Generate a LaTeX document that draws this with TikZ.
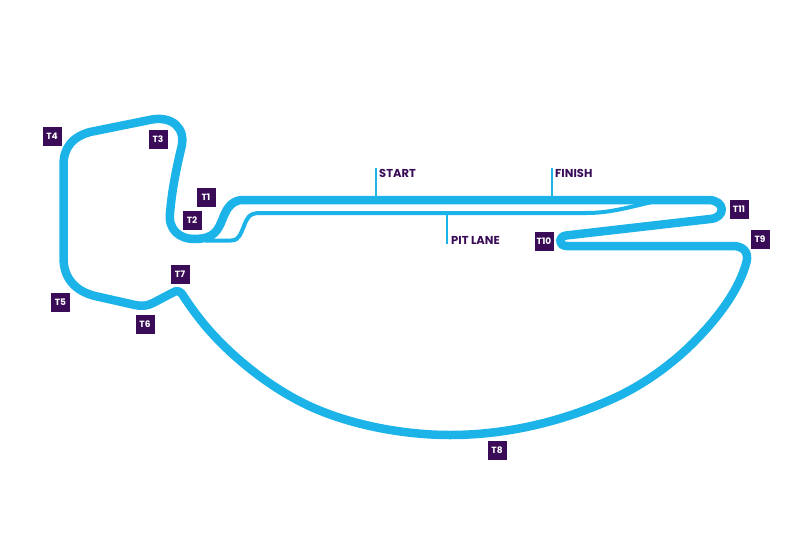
\documentclass[tikz,border=0pt]{standalone}
\usepackage{fontspec}
\setmainfont{Poppins}
\usetikzlibrary{positioning}
\definecolor{track_blue}{HTML}{1BB3E8}
\definecolor{turn_purple}{HTML}{3A0C58}
\tikzset{
  track/.style = {draw=track_blue, line width=8.5pt, line join=round},
  pit/.style = {draw=track_blue, line width=4pt, line join=round},
  stem/.style = {draw=track_blue, line width=1.2pt},
  turn/.style = {fill=turn_purple, text=white, font=\bfseries\fontsize{9}{9}\selectfont,
    minimum size=19pt, inner sep=0pt},
  banner/.style = {text=turn_purple, font=\bfseries\fontsize{11.5}{12}\selectfont, inner sep=0pt}
}
\begin{document}
\begin{tikzpicture}[x=1pt, y=-1pt]
        \useasboundingbox (0,0) rectangle (800,533);

        % Pit lane
        \draw[pit] (205,240.5) -- (231,240.5)
            .. controls (240,240.5) and (241,232) .. (244,226)
            .. controls (247,218) and (249,213) .. (260,213)
            -- (587,213)
            .. controls (610,213) and (630,207) .. (656,201);

        % Track
        \draw[track] (243,200) -- (708,200)
            .. controls (726,200) and (726,218) .. (710,219)
            -- (566,235.5)
            .. controls (558,236.5) and (558,246) .. (567,246)
            -- (733,246)
            .. controls (743,246) and (749,252) .. (746.5,262)
            .. controls (739,290) and (718,318) .. (693,343)
            .. controls (670,366) and (640,387) .. (610,400)
            .. controls (565,420) and (510,435) .. (450,435)
            .. controls (400,435) and (344,423.5) .. (303,403)
            .. controls (262,382.5) and (225,350) .. (203,323)
            .. controls (195,313) and (190,306) .. (184,297)
            .. controls (180,290) and (177,290) .. (172,293)
            -- (153,303)
            .. controls (147,306) and (142,306.5) .. (135,305)
            -- (95,296)
            .. controls (75,291) and (63.5,278) .. (63.5,258)
            -- (63.5,165)
            .. controls (63.5,148) and (72,137) .. (90,132)
            -- (152,119.5)
            .. controls (172,116) and (186,128) .. (181.5,147)
            .. controls (176,170) and (172,190) .. (170,213)
            .. controls (168,230) and (180,239) .. (194,239)
            .. controls (215,239) and (218,230) .. (223,218)
            .. controls (227,207) and (233,200) .. (243,200)
            -- cycle;

        % Stems
        \coordinate (start_top) at (376,168);
        \coordinate (start_foot) at (376,197);
        \coordinate (finish_top) at (552,168);
        \coordinate (finish_foot) at (552,197);
        \coordinate (pit_top) at (447,213);
        \coordinate (pit_foot) at (447,244);
        \draw[stem] (start_top) -- (start_foot);
        \draw[stem] (finish_top) -- (finish_foot);
        \draw[stem] (pit_top) -- (pit_foot);

        % Labels
        \node[banner, anchor=west] at (379,173) (start) {START};
        \node[banner, anchor=west] at (555,173) (finish) {FINISH};
        \node[banner, anchor=west] at (451,240) (pit_lane) {PIT LANE};

        % Turns
        \node[turn] at (206,197) (t1) {T1};
        \node[turn] at (192,220) (t2) {T2};
        \node[turn] at (158,139) (t3) {T3};
        \node[turn] at (52,136) (t4) {T4};
        \node[turn] at (60.5,302) (t5) {T5};
        \node[turn] at (145,324) (t6) {T6};
        \node[turn] at (180,274) (t7) {T7};
        \node[turn] at (497,450) (t8) {T8};
        \node[turn] at (760,239) (t9) {T9};
        \node[turn] at (544,241) (t10) {T10};
        \node[turn] at (739,209) (t11) {T11};
    \end{tikzpicture}
\end{document}
